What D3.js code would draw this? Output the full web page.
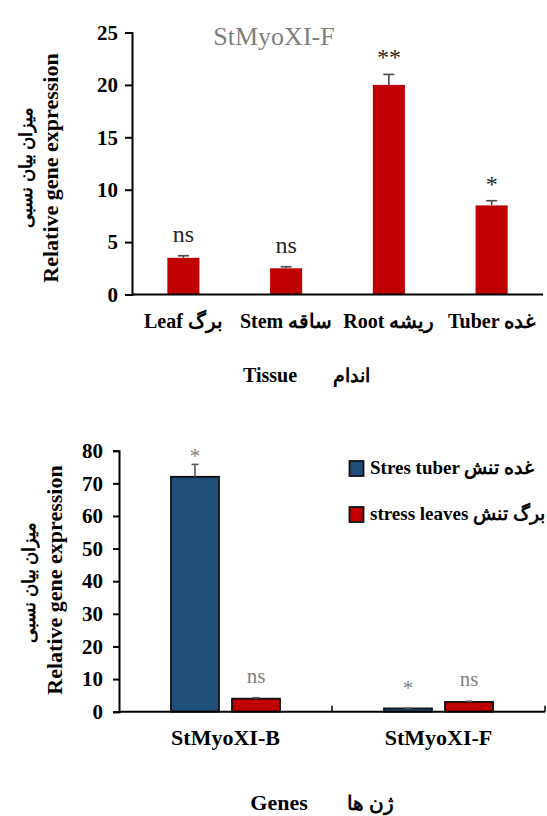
<!DOCTYPE html>
<html>
  <script src="https://d3js.org/d3.v7.min.js" type="text/JavaScript"></script>
  <body style="margin:0">
    <svg></svg>
    <script>
// top chart: tissue expression of StMyoXI-F
var tissues = ['Leaf برگ', 'Stem ساقه', 'Root ریشه', 'Tuber غده'];
var tissueVals = [3.5, 2.5, 20, 8.5];
var tissueErr = [0.2, 0.15, 1.0, 0.45];
var tissueSig = ['ns', 'ns', '**', '*'];
var tissueTicks = [0, 5, 10, 15, 20, 25];

// bottom chart: stress expression by gene
var genes = ['StMyoXI-B', 'StMyoXI-F'];
var seriesNames = ['Stres tuber غده تنش', 'stress leaves برگ تنش'];
var tuberVals = [72, 1.0];
var tuberErr = [3.8, 0.1];
var tuberSig = ['*', '*'];
var leafVals = [4.0, 3.0];
var leafErr = [0.3, 0.2];
var leafSig = ['ns', 'ns'];
var geneTicks = [0, 10, 20, 30, 40, 50, 60, 70, 80];

var serif = '"Liberation Serif", "Times New Roman", serif';
var red = '#c00000', blue = '#1f4e79';

var svg = d3.select('svg').attr('width', 547).attr('height', 816)
  .style('font-family', serif);

// ---------- top chart ----------
var x1 = d3.scaleBand().domain(tissues).range([132, 543]).paddingInner(0.688).paddingOuter(0.344);
var y1 = d3.scaleLinear().domain([0, 25]).range([294.5, 32.5]);

var g1 = svg.append('g');

g1.append('g')
  .attr('transform', 'translate(132,0)')
  .call(d3.axisLeft(y1).tickValues(tissueTicks).tickSize(7).tickPadding(7))
  .call(a => a.select('.domain').attr('stroke-width', 2))
  .call(a => a.selectAll('.tick line').attr('stroke-width', 2))
  .call(a => a.selectAll('text').style('font-family', serif).style('font-weight', 'bold')
    .style('font-size', '21px').attr('fill', '#000'));

g1.selectAll('rect.bar').data(tissueVals).enter().append('rect')
  .attr('class', 'bar')
  .attr('x', (d, i) => x1(tissues[i]))
  .attr('width', x1.bandwidth())
  .attr('y', d => y1(d))
  .attr('height', d => y1(0) - y1(d))
  .attr('fill', red);

var err1 = g1.selectAll('g.err').data(tissueVals).enter().append('g').attr('class', 'err')
  .attr('stroke', '#4a4a4a').attr('stroke-width', 1.6);
err1.append('line')
  .attr('x1', (d, i) => x1(tissues[i]) + x1.bandwidth() / 2)
  .attr('x2', (d, i) => x1(tissues[i]) + x1.bandwidth() / 2)
  .attr('y1', d => y1(d))
  .attr('y2', (d, i) => y1(d + tissueErr[i]));
err1.append('line')
  .attr('x1', (d, i) => x1(tissues[i]) + x1.bandwidth() / 2 - 5.5)
  .attr('x2', (d, i) => x1(tissues[i]) + x1.bandwidth() / 2 + 5.5)
  .attr('y1', (d, i) => y1(d + tissueErr[i]))
  .attr('y2', (d, i) => y1(d + tissueErr[i]));

g1.append('line')
  .attr('x1', 132).attr('x2', 543)
  .attr('y1', y1(0)).attr('y2', y1(0))
  .attr('stroke', '#000').attr('stroke-width', 2.2);

g1.selectAll('text.sig').data(tissueVals).enter().append('text')
  .attr('class', 'sig')
  .attr('x', (d, i) => x1(tissues[i]) + x1.bandwidth() / 2)
  .attr('y', (d, i) => y1(d + tissueErr[i]) - (tissueSig[i] === 'ns' ? 14 : 9))
  .attr('text-anchor', 'middle')
  .style('font-size', '24px')
  .attr('fill', '#262626')
  .text((d, i) => tissueSig[i]);

g1.append('text')
  .attr('x', 274).attr('y', 45)
  .attr('text-anchor', 'middle')
  .style('font-size', '26px').attr('fill', '#7f7f7f')
  .text('StMyoXI-F');

g1.selectAll('text.cat').data(tissues).enter().append('text')
  .attr('class', 'cat')
  .attr('x', d => x1(d) + x1.bandwidth() / 2)
  .attr('y', 328)
  .attr('text-anchor', 'middle')
  .style('font-size', '20px').style('font-weight', 'bold')
  .text(d => d);

g1.append('text').attr('x', 270).attr('y', 382).attr('text-anchor', 'middle')
  .style('font-size', '20px').style('font-weight', 'bold').text('Tissue');
g1.append('text').attr('x', 351).attr('y', 382).attr('text-anchor', 'middle')
  .style('font-size', '19px').style('font-weight', 'bold').text('اندام');

g1.append('text')
  .attr('transform', 'translate(58,168) rotate(-90)')
  .attr('text-anchor', 'middle')
  .style('font-size', '22px').style('font-weight', 'bold')
  .text('Relative gene expression');
g1.append('text')
  .attr('transform', 'translate(32,167) rotate(-90)')
  .attr('text-anchor', 'middle')
  .style('font-size', '18px').style('font-weight', 'bold')
  .text('میزان بیان نسبی');

// ---------- bottom chart ----------
var x2 = d3.scaleBand().domain(genes).range([119, 545]);
var xs = d3.scaleBand().domain([0, 1]).range([0, x2.bandwidth()]).paddingInner(0.213).paddingOuter(0.852);
var y2 = d3.scaleLinear().domain([0, 80]).range([711.7, 450.7]);

var g2 = svg.append('g');

g2.append('g')
  .attr('transform', 'translate(119,0)')
  .call(d3.axisLeft(y2).tickValues(geneTicks).tickSize(6).tickPadding(10))
  .call(a => a.select('.domain').attr('stroke-width', 2))
  .call(a => a.selectAll('.tick line').attr('stroke-width', 2))
  .call(a => a.selectAll('text').style('font-family', serif).style('font-weight', 'bold')
    .style('font-size', '21px').attr('fill', '#000'));

var series = [
  {name: seriesNames[0], vals: tuberVals, err: tuberErr, sig: tuberSig, color: blue},
  {name: seriesNames[1], vals: leafVals, err: leafErr, sig: leafSig, color: red}
];

series.forEach((s, si) => {
  var bx = i => x2(genes[i]) + xs(si);
  g2.selectAll('rect.s' + si).data(s.vals).enter().append('rect')
    .attr('class', 's' + si)
    .attr('x', (d, i) => bx(i))
    .attr('width', xs.bandwidth())
    .attr('y', d => y2(d))
    .attr('height', d => y2(0) - y2(d))
    .attr('fill', s.color).attr('stroke', '#111').attr('stroke-width', 1.8);

  var eg = g2.selectAll('g.e' + si).data(s.vals).enter().append('g').attr('class', 'e' + si)
    .attr('stroke', '#595959').attr('stroke-width', 1.6);
  eg.append('line')
    .attr('x1', (d, i) => bx(i) + xs.bandwidth() / 2)
    .attr('x2', (d, i) => bx(i) + xs.bandwidth() / 2)
    .attr('y1', d => y2(d))
    .attr('y2', (d, i) => y2(d + s.err[i]));
  eg.append('line')
    .attr('x1', (d, i) => bx(i) + xs.bandwidth() / 2 - 3.5)
    .attr('x2', (d, i) => bx(i) + xs.bandwidth() / 2 + 3.5)
    .attr('y1', (d, i) => y2(d + s.err[i]))
    .attr('y2', (d, i) => y2(d + s.err[i]));

  g2.selectAll('text.g' + si).data(s.vals).enter().append('text')
    .attr('class', 'g' + si)
    .attr('x', (d, i) => bx(i) + xs.bandwidth() / 2)
    .attr('y', (d, i) => Math.max(y2(80) + 12, y2(d + s.err[i]) - (s.sig[i] === 'ns' ? 15 : 13)))
    .attr('text-anchor', 'middle')
    .style('font-size', '21px').attr('fill', '#7f7f7f')
    .text((d, i) => s.sig[i]);

  // legend
  var ly = 461 + si * 46;
  g2.append('rect').attr('x', 349.5).attr('y', ly).attr('width', 14).attr('height', 15)
    .attr('fill', s.color).attr('stroke', '#111').attr('stroke-width', 1.8);
  g2.append('text').attr('x', 370).attr('y', ly + 13)
    .style('font-size', '19px').style('font-weight', 'bold')
    .text(s.name);
});

g2.append('line')
  .attr('x1', 119).attr('x2', 545)
  .attr('y1', y2(0)).attr('y2', y2(0))
  .attr('stroke', '#000').attr('stroke-width', 2);
g2.selectAll('line.ct').data(genes).enter().append('line')
  .attr('class', 'ct')
  .attr('x1', d => x2(d) + x2.bandwidth()).attr('x2', d => x2(d) + x2.bandwidth())
  .attr('y1', y2(0)).attr('y2', y2(0) - 6)
  .attr('stroke', '#000').attr('stroke-width', 1.5);

g2.selectAll('text.gene').data(genes).enter().append('text')
  .attr('class', 'gene')
  .attr('x', d => x2(d) + x2.bandwidth() / 2)
  .attr('y', 745)
  .attr('text-anchor', 'middle')
  .style('font-size', '22px').style('font-weight', 'bold')
  .text(d => d);

g2.append('text').attr('x', 279).attr('y', 810).attr('text-anchor', 'middle')
  .style('font-size', '22px').style('font-weight', 'bold').text('Genes');
g2.append('text').attr('x', 370).attr('y', 810).attr('text-anchor', 'middle')
  .style('font-size', '20px').style('font-weight', 'bold').text('ژن ها');

g2.append('text')
  .attr('transform', 'translate(62,580) rotate(-90)')
  .attr('text-anchor', 'middle')
  .style('font-size', '22px').style('font-weight', 'bold')
  .text('Relative gene expression');
g2.append('text')
  .attr('transform', 'translate(35,582) rotate(-90)')
  .attr('text-anchor', 'middle')
  .style('font-size', '18px').style('font-weight', 'bold')
  .text('میزان بیان نسبی');
    </script>
  </body>
</html>
